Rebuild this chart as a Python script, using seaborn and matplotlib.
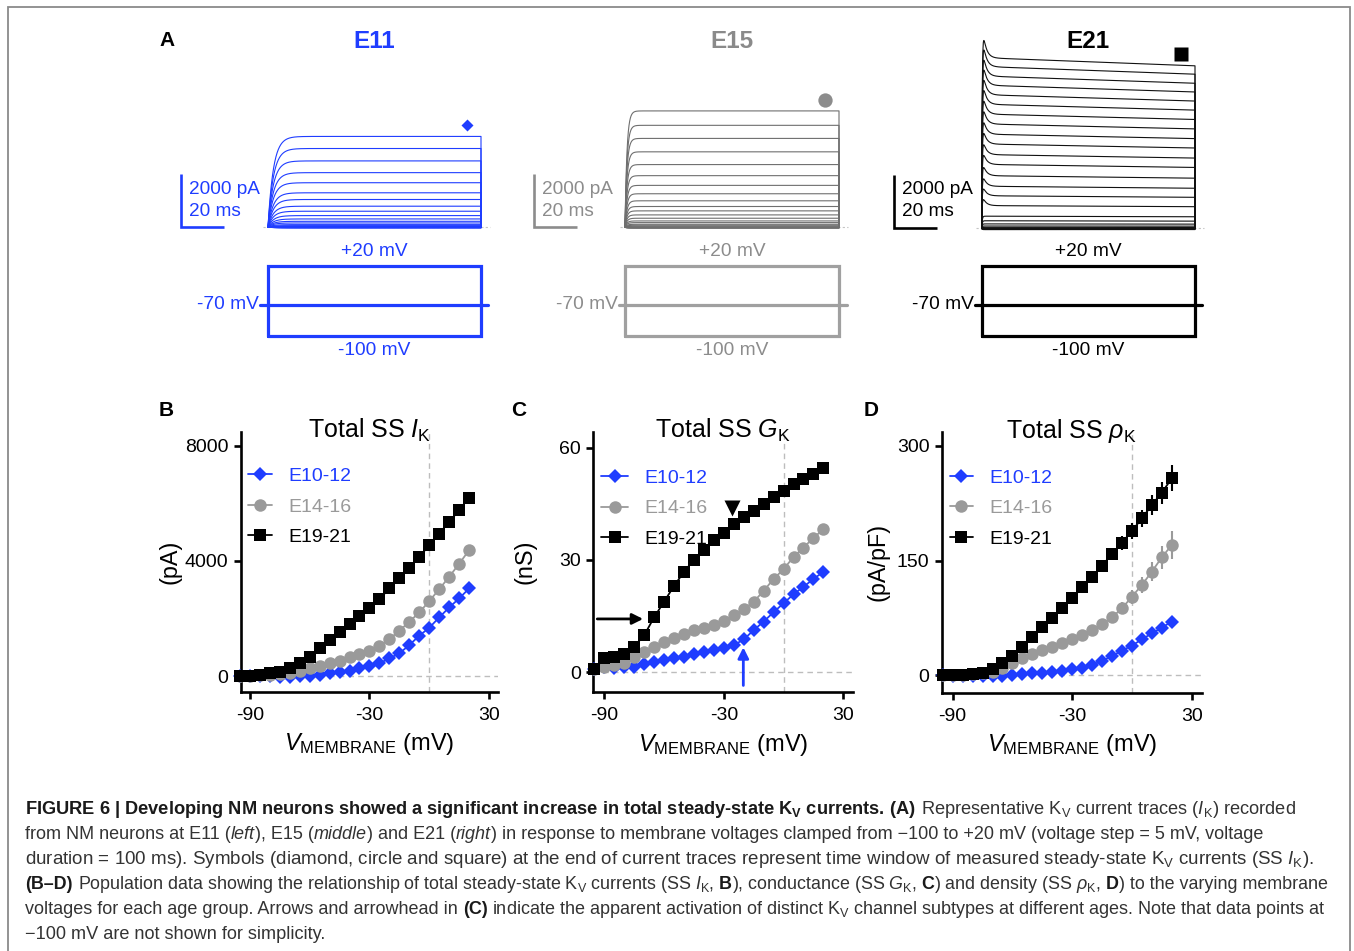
import numpy as np
import pandas as pd
import matplotlib
matplotlib.use("Agg")
import matplotlib.pyplot as plt
import seaborn as sns
from matplotlib.lines import Line2D
from matplotlib.patches import Rectangle
from matplotlib.font_manager import FontProperties

# ------------------------------------------------------------------ data
V_MEM = [-95, -90, -85, -80, -75, -70, -65, -60, -55, -50, -45, -40,
         -35, -30, -25, -20, -15, -10, -5, 0, 5, 10, 15, 20]
GROUPS = ["E10-12", "E14-16", "E19-21"]

# B: total steady-state I_K (pA)
IK_E10 = [0, -5, -10, -15, -20, -20, 0, 12, 46, 92, 127, 185, 266, 358, 440,
          612, 786, 1075, 1400, 1676, 2035, 2381, 2694, 3040]
IK_E14 = [0, 10, 20, 35, 69, 115, 173, 266, 347, 440, 532, 647, 751, 878, 1052,
          1283, 1572, 1884, 2208, 2600, 3017, 3445, 3900, 4370]
IK_E19 = [0, 10, 46, 92, 150, 266, 440, 670, 960, 1248, 1514, 1800, 2080, 2370,
          2670, 3040, 3387, 3757, 4138, 4543, 4950, 5350, 5760, 6200]

# C: total steady-state G_K (nS)
GK_E10 = [0.7, 1.4, 1.2, 1.4, 1.4, 2.1, 2.6, 3.2, 3.7, 4.1, 4.7, 5.3, 5.9, 6.3,
          7.2, 8.7, 11.2, 13.5, 16.0, 18.4, 20.8, 22.8, 24.9, 26.8]
GK_E14 = [0.7, 1.4, 1.9, 2.3, 4.1, 5.3, 6.8, 7.9, 9.2, 10.3, 11.2, 11.9, 12.6,
          13.7, 15.2, 16.8, 18.8, 21.7, 24.9, 27.5, 30.8, 33.3, 35.9, 38.2]
GK_E19 = [0.7, 3.7, 4.1, 4.8, 6.8, 9.8, 14.6, 18.8, 23.0, 26.8, 30.0, 32.6, 35.3,
          37.3, 39.6, 41.4, 43.1, 44.9, 46.7, 48.5, 50.2, 51.6, 52.9, 54.5]

# D: total steady-state rho_K (pA/pF) and SEM
RK_E10 = [0, -0.5, -1, -1, -1, -1, -0.5, 0, 1.3, 2.6, 3.5, 4.8, 6.1, 7.8, 10.0,
          13.5, 18.8, 25.3, 32.3, 38.8, 47.1, 54.9, 62.4, 70.2]
RK_E14 = [0, 0, 0.4, 1.3, 2.6, 4.8, 9.2, 15.7, 22.2, 27.9, 33.1, 37.5, 41.9, 47.1,
          52.8, 59.3, 67.2, 75.9, 87.6, 102.9, 118.2, 135.6, 154.4, 170.5]
RK_E19 = [0, 0, 0.4, 1.7, 3.5, 7.8, 15.7, 25.3, 37.5, 50.6, 62.8, 74.6, 87.6,
          100.7, 115.0, 129.0, 143.5, 158.7, 173.5, 188.8, 205.4, 222.8, 239.0, 257.7]
RK_E10_SEM = [0, 0, 0, 0, 0, 0, 0, 0, 0.3, 0.5, 0.6, 0.8, 1.0, 1.2, 1.5, 1.8,
              2.2, 2.6, 3.0, 3.4, 3.8, 4.2, 4.6, 5.0]
RK_E14_SEM = [0, 0, 0, 0.2, 0.4, 0.8, 1.2, 1.8, 2.4, 3.0, 3.5, 4.0, 4.5, 5.0,
              5.5, 6.0, 6.6, 7.2, 8.0, 9.0, 10.5, 12.5, 15.0, 18.0]
RK_E19_SEM = [0, 0, 0, 0.3, 0.6, 1.0, 1.5, 2.0, 2.6, 3.2, 3.8, 4.3, 4.8, 5.3,
              5.8, 6.4, 7.0, 8.0, 9.0, 10.0, 11.0, 12.5, 14.5, 17.0]

# A: steady-state amplitudes (pA) of the representative current traces
E11_TRACES = [3418, 2962, 2494, 2051, 1671, 1291, 1038, 785, 595, 430, 304, 215,
              152, 89, 51, 25, 10, 0, 0, -10, -15, -20, -25, -30, -35]
E15_TRACES = [4392, 3848, 3354, 2848, 2367, 1949, 1582, 1266, 1000, 785, 620,
              468, 342, 240, 177, 114, 76, 38, 15, 0, -10, -15, -20, -25, -30]
E21_TRACES = [6139, 5823, 5481, 5152, 4810, 4468, 4114, 3759, 3392, 3038, 2658,
              2304, 1899, 1519, 1177, 823, 443, 278, 165, 89, 40, 0, -20, -30, -40]
AGES_A = ["E11", "E15", "E21"]
PROTO_HOLD, PROTO_MAX, PROTO_MIN = -70, 20, -100
SCALE_PA, SCALE_MS = 2000, 20

# ------------------------------------------------------------------ style
BLUE = "#1f3dff"
GRAY = "#9a9a9a"
BLACK = "#000000"
PALETTE = {"E10-12": BLUE, "E14-16": GRAY, "E19-21": BLACK}
MARKERS = {"E10-12": "D", "E14-16": "o", "E19-21": "s"}
MSIZE = {"E10-12": 7.2, "E14-16": 9.0, "E19-21": 9.2}

sns.set_theme(style="white")
plt.rcParams["font.family"] = ["Liberation Sans", "DejaVu Sans"]
plt.rcParams["mathtext.fontset"] = "custom"
plt.rcParams["mathtext.rm"] = "Liberation Sans"
plt.rcParams["mathtext.it"] = "Liberation Sans:italic"
plt.rcParams["mathtext.bf"] = "Liberation Sans:bold"
plt.rcParams["mathtext.sf"] = "Liberation Sans"
plt.rcParams["axes.unicode_minus"] = False
plt.rcParams["text.color"] = "black"
plt.rcParams["axes.labelcolor"] = "black"
plt.rcParams["xtick.color"] = "black"
plt.rcParams["ytick.color"] = "black"

W, H = 1354, 951
fig = plt.figure(figsize=(W / 100, H / 100), dpi=100)
fig.patch.set_facecolor("white")


def px_axes(l, t, r, b):
    return fig.add_axes([l / W, 1 - b / H, (r - l) / W, (b - t) / H])


def fig_text(x, y, s, **kw):
    return fig.text(x / W, 1 - y / H, s, **kw)


# outer frame
fig.add_artist(Rectangle((8 / W, -0.05), (1350 - 8) / W, 1.05 - 7 / H,
                         transform=fig.transFigure, fill=False,
                         edgecolor="#8a8a8a", lw=1.3))

# ------------------------------------------------------------------ panel A
T = np.linspace(0, 100, 1601)


def waveform(kind, A):
    if kind == "E11":
        return A * (1 - np.exp(-T / 2.5))
    if kind == "E15":
        return A * (1 - np.exp(-T / 0.9))
    rise = 1 - np.exp(-T / 0.25)
    peak = (0.2 * A + 300) if A > 600 else 0.0
    return A * (1 + 0.05 * (1 - T / 100)) * rise + peak * np.exp(-T / 1.5) * rise


A_CFG = [
    dict(x0=268, x1=481, base=227, col=BLUE, tcol=BLUE, pcol=BLUE, title=BLUE,
         marker="D", ms=6.2, sb=181, hl=260, hr=488, amps=E11_TRACES),
    dict(x0=625, x1=839, base=227.3, col="#8c8c8c", tcol="#6f6f6f", pcol="#a0a0a0",
         title="#8a8a8a", marker="o", ms=10.3, sb=534, hl=619, hr=847, amps=E15_TRACES),
    dict(x0=981.7, x1=1195, base=228.5, col=BLACK, tcol="#111111", pcol=BLACK,
         title=BLACK, marker="s", ms=10.0, sb=894, hl=975, hr=1201.7, amps=E21_TRACES),
]
SY = 53.0 / SCALE_PA

for age, cfg in zip(AGES_A, A_CFG):
    x0, x1, base = cfg["x0"], cfg["x1"], cfg["base"]
    sx = (x1 - x0) / 100.0
    L, R, TOP, BOT = x0 - 110, x1 + 25, 15, 250
    ax = px_axes(L, TOP, R, BOT)
    ax.set_xlim((L - x0) / sx, (R - x0) / sx)
    ax.set_ylim((base - BOT) / SY, (base - TOP) / SY)
    ax.set_axis_off()
    ax.plot([-2.5, 104], [0, 0], color="#c4c4c4", lw=0.8, ls=(0, (2, 2)), zorder=0)
    for A in cfg["amps"]:
        y = waveform(age, A)
        ax.plot(np.r_[T, 100], np.r_[y, 0], color=cfg["tcol"], lw=0.8)
    ax.plot([93.6], [cfg["amps"][0] + 430], marker=cfg["marker"], ms=cfg["ms"],
            color=cfg["col"], mec="none", zorder=5)
    tsb = (cfg["sb"] - x0) / sx
    ax.plot([tsb, tsb, tsb + SCALE_MS], [SCALE_PA, 0, 0], color=cfg["col"], lw=1.9,
            solid_capstyle="butt", solid_joinstyle="miter")
    fig_text(cfg["sb"] + 8, 189, f"{SCALE_PA} pA", fontsize=13.7, color=cfg["col"],
             va="center", ha="left")
    fig_text(cfg["sb"] + 8, 211, f"{SCALE_MS} ms", fontsize=13.7, color=cfg["col"],
             va="center", ha="left")
    fig_text((x0 + x1) / 2, 41, age, fontsize=17.5, fontweight="bold",
             color=cfg["title"], ha="center", va="center")

    # voltage protocol (schematic)
    pax = px_axes(x0, 266, x1, 336)
    pax.set_xlim(0, 100)
    pax.set_ylim(0, 1)
    pax.set_axis_off()
    pax.plot([0, 0, 100, 100, 0], [0, 1, 1, 0, 0], color=cfg["pcol"], lw=2.3,
             clip_on=False, solid_joinstyle="miter")
    hold_y = 0.443
    pax.plot([(cfg["hl"] - x0) / sx, (cfg["hr"] - x0) / sx], [hold_y, hold_y],
             color=cfg["pcol"], lw=2.3, clip_on=False)
    pcol_txt = cfg["col"]
    pax.text(50, 1.21, f"+{PROTO_MAX} mV", ha="center", va="center",
             fontsize=13.8, color=pcol_txt)
    pax.text(50, -0.21, f"{PROTO_MIN} mV", ha="center", va="center",
             fontsize=13.8, color=pcol_txt)
    pax.text((cfg["hl"] - x0) / sx - 0.6, hold_y, f"{PROTO_HOLD} mV", ha="right",
             va="center", fontsize=13.8, color=pcol_txt)

fig_text(167.5, 40, "A", fontsize=15, fontweight="bold", ha="center", va="center")

# ------------------------------------------------------------------ panels B-D
PANELS = [
    dict(rect=(240.7, 431.7, 498, 691.7), xlim=(-94.6, 34.5), ylim=(-545, 8486),
         yticks=[0, 4000, 8000], data=[IK_E10, IK_E14, IK_E19], sem=None,
         ylabel="(pA)", ylx=-0.229, title=r"Total SS $I_\mathrm{K}$", letter="B",
         lx=166, leg=(0.03, 0.862), hl=1.2),
    dict(rect=(593.3, 431.7, 853.3, 692), xlim=(-95.5, 35), ylim=(-5.35, 64.3),
         yticks=[0, 30, 60], data=[GK_E10, GK_E14, GK_E19], sem=None,
         ylabel="(nS)", ylx=-0.218, title=r"Total SS $G_\mathrm{K}$", letter="C",
         lx=519, leg=(0.03, 0.855), hl=1.4),
    dict(rect=(941.7, 431.7, 1201.7, 692.7), xlim=(-95.5, 35), ylim=(-22.8, 318.7),
         yticks=[0, 150, 300], data=[RK_E10, RK_E14, RK_E19],
         sem=[RK_E10_SEM, RK_E14_SEM, RK_E19_SEM],
         ylabel="(pA/pF)", ylx=-0.199, title=r"Total SS $\rho_\mathrm{K}$", letter="D",
         lx=871, leg=(0.03, 0.857), hl=1.2),
]
DRAW_ORDER = [1, 0, 2]
ax_list = []

for p in PANELS:
    ax = px_axes(*p["rect"])
    ax_list.append(ax)
    ax.set_xlim(*p["xlim"])
    ax.set_ylim(*p["ylim"])
    ax.axhline(0, color="#bdbdbd", lw=1.0, ls=(0, (4, 3)), zorder=0)
    ax.axvline(0, color="#bdbdbd", lw=1.0, ls=(0, (4, 3)), zorder=0)
    df = pd.DataFrame({"V": V_MEM * 3,
                       "val": sum(p["data"], []),
                       "group": np.repeat(GROUPS, len(V_MEM))})
    for gi in DRAW_ORDER:
        g = GROUPS[gi]
        sub = df[df["group"] == g]
        if p["sem"] is not None:
            ax.errorbar(V_MEM, p["data"][gi], yerr=p["sem"][gi], fmt="none",
                        ecolor=PALETTE[g], elinewidth=1.5, capsize=0,
                        zorder=2 + gi, clip_on=False)
        sns.lineplot(data=sub, x="V", y="val", ax=ax, color=PALETTE[g],
                     marker=MARKERS[g], markersize=MSIZE[g], markeredgewidth=0,
                     markeredgecolor=PALETTE[g], linewidth=1.3, estimator=None,
                     sort=False, legend=False, zorder=3 + gi, clip_on=False)
    ax.set_xticks([-90, -30, 30])
    ax.set_yticks(p["yticks"])
    sns.despine(ax=ax)
    for side in ("left", "bottom"):
        ax.spines[side].set_linewidth(1.9)
        ax.spines[side].set_color("black")
    ax.tick_params(axis="both", direction="out", length=4.8, width=1.9,
                   labelsize=14, bottom=True, left=True, colors="black")
    ax.tick_params(axis="x", pad=6)
    ax.tick_params(axis="y", pad=4)
    ax.set_xlabel(r"$V_\mathrm{MEMBRANE}$ (mV)", fontsize=17)
    ax.xaxis.set_label_coords(0.5, -0.152)
    ax.set_ylabel(p["ylabel"], fontsize=16.8)
    ax.yaxis.set_label_coords(p["ylx"], 0.5)
    ax.text(0.5, 0.975, p["title"], transform=ax.transAxes, ha="center",
            va="baseline", fontsize=18)
    fig_text(p["lx"], 410, p["letter"], fontsize=15, fontweight="bold",
             ha="center", va="center")
    handles = [Line2D([], [], color=PALETTE[g], marker=MARKERS[g],
                      markersize=MSIZE[g], markeredgewidth=0, lw=1.3)
               for g in GROUPS]
    ax.legend(handles=handles, labels=GROUPS, loc="upper left",
              bbox_to_anchor=p["leg"], frameon=False, fontsize=14,
              handlelength=p["hl"], handletextpad=0.85, labelspacing=0.66,
              borderpad=0, borderaxespad=0, labelcolor="linecolor")

# arrows in C
axC = ax_list[1]
axC.annotate("", xy=(-70.5, 14.2), xytext=(-93.5, 14.2),
             arrowprops=dict(arrowstyle="-|>", color="black", lw=2.0,
                             mutation_scale=16, shrinkA=0, shrinkB=0))
axC.annotate("", xy=(-20.2, 6.6), xytext=(-20.2, -3.6),
             arrowprops=dict(arrowstyle="-|>", color=BLUE, lw=2.0,
                             mutation_scale=16, shrinkA=0, shrinkB=0))
axC.plot([-25.8], [44.0], marker="v", ms=11, color="black", mec="none", zorder=8)

# ------------------------------------------------------------------ caption
renderer = fig.canvas.get_renderer()
CAP_FS = 13.2
CAP_COL = "#333333"
CAP_LEFT = 25
CAP_RIGHTS = [1300, 1264, 1317, 1336, 1333, None]


def space_w(prop):
    a = renderer.get_text_width_height_descent("a a", prop, ismath=False)[0]
    b = renderer.get_text_width_height_descent("aa", prop, ismath=False)[0]
    return a - b


def rich_line(y_px, segs, fs, x_px=CAP_LEFT):
    x = x_px
    texts = []
    for s, w, st in segs:
        lead = len(s) - len(s.lstrip(" "))
        trail = len(s) - len(s.rstrip(" "))
        core = s.strip(" ")
        prop = FontProperties(family="Liberation Sans", size=fs, weight=w, style=st)
        sw = space_w(prop)
        x += lead * sw
        t = fig.text(x / W, 1 - y_px / H, core, fontproperties=prop,
                     color="#1a1a1a" if w == "bold" else CAP_COL,
                     va="baseline", ha="left")
        texts.append(t)
        x += t.get_window_extent(renderer).width + trail * sw
    return texts, x


N, B_, I_ = "normal", "bold", "italic"
CAPTION = [
    [("FIGURE 6 | Developing NM neurons showed a significant increase in total "
      "steady-state K$_\\mathbf{V}$ currents. (A)", B_, N),
     (" Representative K$_\\mathrm{V}$ current traces ($I_\\mathrm{K}$) recorded", N, N)],
    [("from NM neurons at E11 (", N, N), ("left", N, I_), ("), E15 (", N, N),
     ("middle", N, I_), (") and E21 (", N, N), ("right", N, I_),
     (") in response to membrane voltages clamped from \u2212100 to +20 mV "
      "(voltage step = 5 mV, voltage", N, N)],
    [("duration = 100 ms). Symbols (diamond, circle and square) at the end of current "
      "traces represent time window of measured steady-state K$_\\mathrm{V}$ currents "
      "(SS $I_\\mathrm{K}$).", N, N)],
    [("(B\u2013D)", B_, N),
     (" Population data showing the relationship of total steady-state K$_\\mathrm{V}$ "
      "currents (SS $I_\\mathrm{K}$, ", N, N), ("B", B_, N),
     ("), conductance (SS $G_\\mathrm{K}$, ", N, N), ("C", B_, N),
     (") and density (SS $\\rho_\\mathrm{K}$, ", N, N), ("D", B_, N),
     (") to the varying membrane", N, N)],
    [("voltages for each age group. Arrows and arrowhead in ", N, N), ("(C)", B_, N),
     (" indicate the apparent activation of distinct K$_\\mathrm{V}$ channel subtypes "
      "at different ages. Note that data points at", N, N)],
    [("\u2212100 mV are not shown for simplicity.", N, N)],
]
sizes = []
for i, segs in enumerate(CAPTION):
    y = 814 + 25 * i
    right = CAP_RIGHTS[i]
    if right is None:
        fs = float(np.mean(sizes)) if sizes else CAP_FS
        rich_line(y, segs, fs)
        continue
    texts, xend = rich_line(y, segs, CAP_FS)
    fs = CAP_FS * (right - CAP_LEFT) / (xend - CAP_LEFT)
    for t in texts:
        t.remove()
    sizes.append(fs)
    rich_line(y, segs, fs)

fig.savefig("out.png", dpi=100, facecolor="white")
